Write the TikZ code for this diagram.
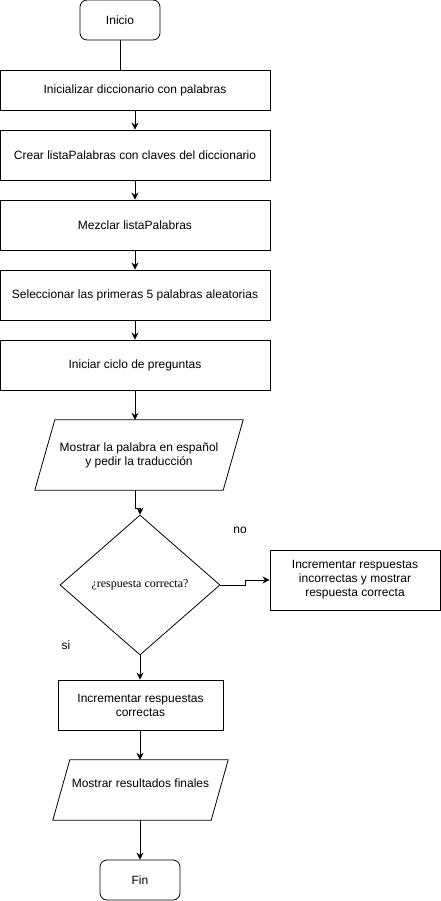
\documentclass[tikz,border=0pt]{standalone}
\usepackage{fontspec}
\setmainfont{Liberation Sans}
\newfontfamily\decfont{Liberation Serif}
\usepackage{tikz}
\usetikzlibrary{positioning, arrows.meta, shapes.geometric}

\begin{document}
\begin{tikzpicture}[
    x=1pt, y=-1pt,
    every node/.style={font=\fontsize{12pt}{14pt}\selectfont, align=center},
    terminal/.style={draw, rounded corners=7pt, minimum width=80pt, minimum height=40pt, line width=0.8pt},
    process/.style={draw, rectangle, minimum width=270pt, minimum height=50pt, line width=0.8pt},
    io/.style={rectangle, inner sep=0pt},
    decision/.style={draw, diamond, minimum width=160pt, minimum height=140pt, inner sep=0pt, line width=0.8pt, font=\decfont\fontsize{12pt}{14pt}\selectfont},
    arrow/.style={-{Stealth[length=7pt, width=7pt]}, line width=0.8pt},
    branch/.style={draw=none}
]
    \useasboundingbox (0,0) rectangle (441,901);

    % Nodes
    \node[terminal] (inicio) at (120,20) {Inicio};
    \node[process, minimum height=40pt] (init) at (135,90) {Inicializar diccionario con palabras};
    \node[process] (crear) at (135,155) {Crear listaPalabras con claves del diccionario};
    \node[process] (mezclar) at (135,225) {Mezclar listaPalabras};
    \node[process] (selec) at (135,295) {Seleccionar las primeras 5 palabras aleatorias};
    \node[process] (ciclo) at (135,365) {Iniciar ciclo de preguntas};
    \node[io, minimum width=188pt, minimum height=70pt] (mostrar) at (139,455) {Mostrar la palabra en español\\y pedir la traducción};
    \node[decision] (dec) at (140,585) {¿respuesta correcta?};
    \node[process, minimum width=170pt, minimum height=60pt] (incorrecta) at (355,580) {Incrementar respuestas\\incorrectas y mostrar\\respuesta correcta};
    \node[process, minimum width=165pt] (correcta) at (140.5,705) {Incrementar respuestas\\correctas};
    \node[io, minimum width=158pt, minimum height=60pt] (resultados) at (140.5,790) {Mostrar resultados finales\\\mbox{}};
    \node[terminal] (fin) at (140,880) {Fin};

    \node[branch] (no) at (240,530) {no};
    \node[branch] (si) at (66,645) {si};

    % Parallelograms
    \draw[line width=0.8pt] ([xshift=10pt]mostrar.north west) -- ([xshift=10pt]mostrar.north east)
        -- ([xshift=-10pt]mostrar.south east) -- ([xshift=-10pt]mostrar.south west) -- cycle;
    \draw[line width=0.8pt] ([xshift=8.5pt]resultados.north west) -- ([xshift=8.5pt]resultados.north east)
        -- ([xshift=-8.5pt]resultados.south east) -- ([xshift=-8.5pt]resultados.south west) -- cycle;

    % Arrows
    \draw[line width=0.8pt] (inicio.south) -- (inicio.south |- init.north);
    \draw[arrow] (init.south) -- (crear.north);
    \draw[arrow] (crear.south) -- (mezclar.north);
    \draw[arrow] (mezclar.south) -- (selec.north);
    \draw[arrow] (selec.south) -- (ciclo.north);
    \draw[arrow] (ciclo.south) -- (ciclo.south |- mostrar.north);
    \draw[arrow] (ciclo.south |- mostrar.south) -- ++(0,18) -| (dec.north);
    \draw[arrow] (dec.east) -- ++(25,0) |- (incorrecta.west);
    \draw[arrow] (dec.south) -- (dec.south |- correcta.north);
    \draw[arrow] (dec.south |- correcta.south) -- (dec.south |- resultados.north);
    \draw[arrow] (dec.south |- resultados.south) -- (fin.north);
\end{tikzpicture}
\end{document}
